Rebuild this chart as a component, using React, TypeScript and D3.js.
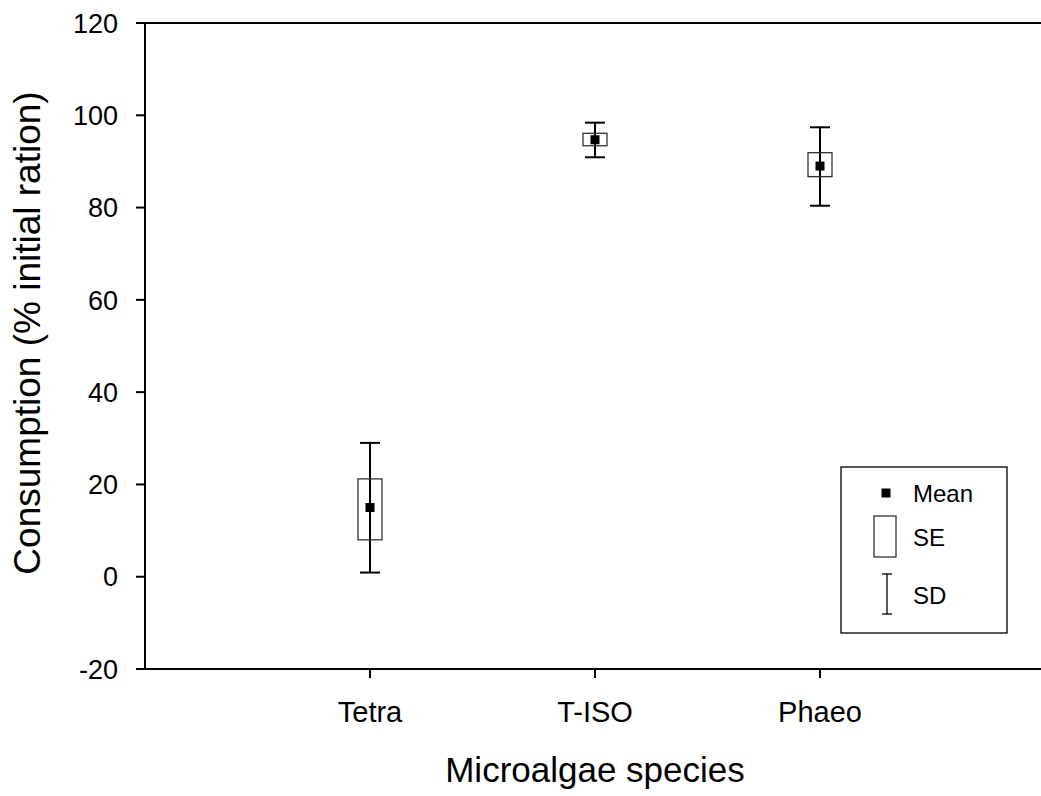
import React from "react";
import * as d3 from "d3";

const categories = ["Tetra", "T-ISO", "Phaeo"];
const means = [15.0, 94.7, 89.0];
const seLow = [8.0, 93.4, 86.7];
const seHigh = [21.2, 96.1, 91.9];
const sdLow = [0.9, 90.9, 80.4];
const sdHigh = [29.0, 98.4, 97.4];
const yTicks = [-20, 0, 20, 40, 60, 80, 100, 120];

const W = 1041;
const H = 796;
const FONT = "Liberation Sans, Arial, sans-serif";

export default function App() {
  const x = d3.scaleLinear().domain([0, 4]).range([145, 1045]);
  const y = d3.scaleLinear().domain([-20, 120]).range([669, 23]);
  const left = 145;
  const right = 1041;
  const top = y(120);
  const bottom = y(-20);

  return (
    <div style={{ position: "fixed", left: 0, top: 0 }}>
      <svg width={W} height={H} style={{ display: "block", background: "#fff" }}>
        {/* frame */}
        <line x1={left} x2={right} y1={top} y2={top} stroke="#000" strokeWidth={2} />
        <line x1={left} x2={right} y1={bottom} y2={bottom} stroke="#000" strokeWidth={2} />
        <line x1={left} x2={left} y1={top} y2={bottom} stroke="#000" strokeWidth={2} />
        {/* y ticks */}
        {yTicks.map((t) => (
          <g key={t}>
            <line x1={left - 9} x2={left} y1={y(t)} y2={y(t)} stroke="#000" strokeWidth={2} />
            <text
              x={left - 27}
              y={y(t)}
              dy="0.36em"
              textAnchor="end"
              fontFamily={FONT}
              fontSize={27}
              fill="#000"
            >
              {t}
            </text>
          </g>
        ))}
        {/* x ticks */}
        {categories.map((c, i) => (
          <g key={c}>
            <line x1={x(i + 1)} x2={x(i + 1)} y1={bottom} y2={bottom + 9} stroke="#000" strokeWidth={2} />
            <text
              x={x(i + 1)}
              y={722}
              textAnchor="middle"
              fontFamily={FONT}
              fontSize={29}
              fill="#000"
            >
              {c}
            </text>
          </g>
        ))}
        {/* axis titles */}
        <text
          x={595}
          y={782}
          textAnchor="middle"
          fontFamily={FONT}
          fontSize={35}
          fill="#000"
        >
          Microalgae species
        </text>
        <text
          transform={`translate(40, 333) rotate(-90)`}
          textAnchor="middle"
          fontFamily={FONT}
          fontSize={37}
          fill="#000"
        >
          Consumption (% initial ration)
        </text>
        {/* data */}
        {categories.map((c, i) => {
          const cx = x(i + 1);
          return (
            <g key={"d" + c}>
              <line x1={cx} x2={cx} y1={y(sdHigh[i])} y2={y(sdLow[i])} stroke="#000" strokeWidth={2} />
              <line x1={cx - 10} x2={cx + 10} y1={y(sdHigh[i])} y2={y(sdHigh[i])} stroke="#000" strokeWidth={2} />
              <line x1={cx - 10} x2={cx + 10} y1={y(sdLow[i])} y2={y(sdLow[i])} stroke="#000" strokeWidth={2} />
              <rect
                x={cx - 12}
                y={y(seHigh[i])}
                width={24}
                height={y(seLow[i]) - y(seHigh[i])}
                fill="none"
                stroke="#333"
                strokeWidth={1.3}
              />
              <rect x={cx - 4.5} y={y(means[i]) - 4.5} width={9} height={9} fill="#000" />
            </g>
          );
        })}
        {/* legend */}
        <rect x={841} y={467} width={166} height={166} fill="#fff" stroke="#000" strokeWidth={1.3} />
        <rect x={881.5} y={488.5} width={9} height={9} fill="#000" />
        <text x={913} y={493} dy="0.36em" fontFamily={FONT} fontSize={24} fill="#000">
          Mean
        </text>
        <rect x={874} y={516} width={22} height={41} fill="none" stroke="#333" strokeWidth={1.3} />
        <text x={913} y={537} dy="0.36em" fontFamily={FONT} fontSize={24} fill="#000">
          SE
        </text>
        <line x1={887} x2={887} y1={574} y2={614} stroke="#000" strokeWidth={1.3} />
        <line x1={882} x2={892} y1={574} y2={574} stroke="#000" strokeWidth={1.3} />
        <line x1={882} x2={892} y1={614} y2={614} stroke="#000" strokeWidth={1.3} />
        <text x={913} y={595} dy="0.36em" fontFamily={FONT} fontSize={24} fill="#000">
          SD
        </text>
      </svg>
    </div>
  );
}
